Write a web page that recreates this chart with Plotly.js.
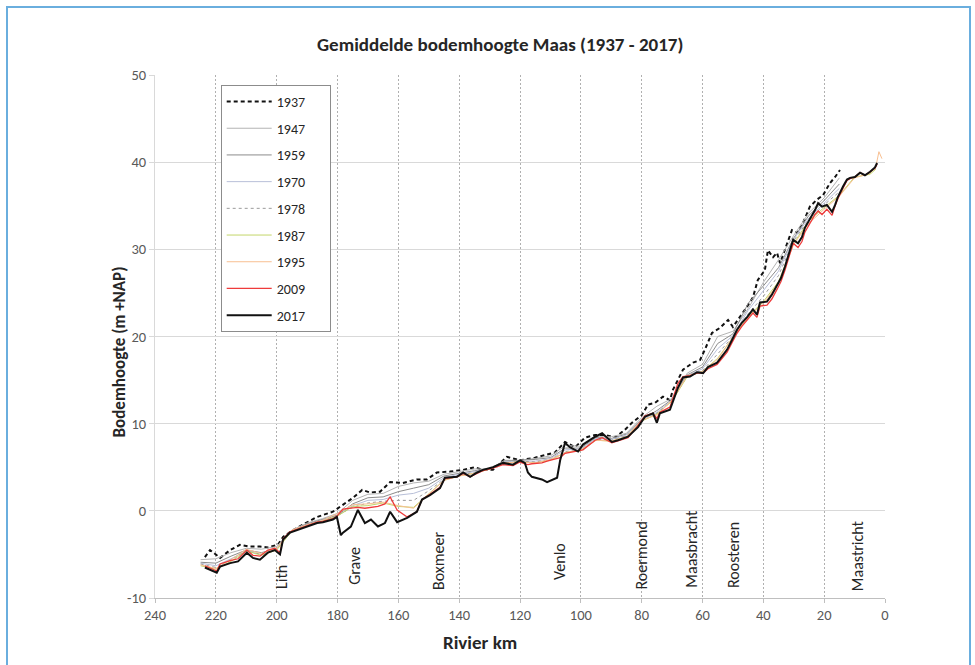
<!DOCTYPE html>
<html>
<head>
<meta charset="utf-8">
<script src="https://cdn.plot.ly/plotly-3.0.1.min.js"></script>
<style>
  html, body { margin: 0; padding: 0; background: #ffffff; overflow: hidden; width: 975px; height: 665px; }
  #chart { position: absolute; left: 0; top: 0; width: 975px; height: 665px; }
  #frame { position: absolute; left: 6px; top: 6px; width: 961px; height: 720px; border: 2px solid #6aaede; pointer-events: none; }
</style>
</head>
<body>
<div id="chart"></div>
<div id="frame"></div>
<script>
// ---- data (river km, bed level in m +NAP) ----
const km2017 = [223.6,221.6,219.7,218.6,215.3,212.7,209.8,207.8,205.5,202.9,200.6,198.9,197.9,195.6,193.3,190.0,186.7,184.8,181.5,180.2,178.9,178.2,175.6,173.3,171.0,169.0,166.7,164.4,162.7,160.4,157.1,153.9,152.2,149.6,146.3,144.7,140.7,138.7,136.4,134.1,132.2,128.9,125.6,122.3,120.0,118.4,117.4,116.1,112.8,111.1,107.8,106.8,105.2,103.6,100.9,99.3,95.3,93.0,89.8,87.8,84.5,81.2,78.9,76.3,75.0,74.0,70.7,68.1,66.4,64.1,61.8,59.8,58.2,55.2,53.6,51.9,50.3,48.6,47.0,45.4,43.4,42.1,41.1,38.8,37.2,35.5,34.2,32.9,31.2,30.2,28.6,27.3,26.3,24.7,23.0,22.0,20.7,19.1,17.4,16.4,15.5,13.8,12.5,11.5,9.9,8.2,6.6,4.9,3.3,2.6];
const v2017 = [-6.5,-6.8,-7.1,-6.4,-6.0,-5.8,-4.8,-5.4,-5.6,-4.8,-4.5,-5.0,-3.3,-2.5,-2.2,-1.8,-1.4,-1.3,-1.0,-0.7,-2.8,-2.5,-1.8,0.1,-1.4,-1.0,-1.8,-1.4,-0.1,-1.3,-0.8,-0.1,1.3,1.8,2.6,3.8,3.9,4.4,3.9,4.4,4.7,5.0,5.5,5.3,5.8,5.5,4.4,3.9,3.6,3.3,3.8,5.8,7.8,7.3,6.8,7.6,8.5,8.9,7.9,8.1,8.5,9.6,10.8,11.2,10.1,11.2,11.6,14.1,15.3,15.4,15.9,15.8,16.5,17.0,17.7,18.5,19.6,20.8,21.6,22.2,23.1,22.5,23.9,24.0,24.8,25.9,26.7,28.0,29.9,31.1,30.7,31.4,32.5,33.4,34.5,35.3,34.9,35.1,34.3,35.1,36.0,37.2,38.0,38.2,38.3,38.8,38.5,38.9,39.4,39.9];

const km2009 = km2017;
const v2009 = [-6.3,-6.6,-6.9,-6.1,-5.7,-5.5,-4.5,-5.1,-5.2,-4.5,-4.3,-4.8,
  -3.2,-2.4,-2.1,-1.7,-1.3,-1.2,-0.9,-0.6,
  0.0,0.2,0.3,0.4,0.3,0.4,0.5,0.8,1.6,0.1,
  -0.7,-0.1,1.3,1.9,2.7,3.7,
  3.9,4.3,3.9,4.3,4.6,4.9,5.3,5.2,5.6,5.4,
  5.3,5.4,5.5,5.7,6.0,6.1,6.6,6.7,6.9,7.0,
  8.1,8.4,7.8,8.0,8.4,9.8,10.9,11.2,10.6,11.3,11.9,
  14.6,15.4,15.5,15.8,15.8,16.3,16.8,17.5,18.2,19.3,20.4,21.2,21.9,22.7,22.2,
  23.5,23.6,24.3,25.4,26.3,27.6,29.4,30.7,30.2,30.9,32.0,33.0,34.0,34.4,
  34.0,34.6,33.9,35.0,35.8,37.0,37.9,38.1,38.3,38.8,38.5,38.9,39.3,39.8];

const km1937 = [223.6,221.9,218.6,215.3,212.1,208.8,205.5,202.9,199.6,197.9,194.6,190.0,186.7,181.5,178.2,174.9,171.9,169.3,166.0,162.7,158.5,153.9,150.6,147.3,143.0,138.7,134.8,132.2,128.9,124.3,120.0,115.1,108.5,105.2,101.9,98.6,95.3,92.1,88.8,85.5,83.2,79.9,77.9,75.6,73.0,70.7,69.7,66.4,63.1,60.8,59.2,56.9,54.2,51.6,50.0,47.7,45.4,43.4,41.8,39.5,38.5,36.8,35.5,34.5,32.2,30.6,28.9,27.0,24.7,22.4,20.4,18.1,16.4,14.8];
const v1937 = [-5.3,-4.5,-5.4,-4.5,-3.9,-4.1,-4.1,-4.2,-3.9,-3.0,-2.2,-1.3,-0.7,-0.1,0.7,1.5,2.4,2.1,2.2,3.3,3.2,3.6,3.6,4.4,4.5,4.7,5.0,4.7,4.7,6.2,5.8,6.1,6.7,7.9,7.3,8.4,8.7,8.7,8.4,9.3,10.1,11.0,12.2,12.4,13.1,12.7,13.9,16.2,17.0,17.3,18.5,20.4,21.0,21.9,21.1,22.2,23.4,24.5,26.5,27.6,29.9,29.1,29.6,28.4,30.7,32.2,31.9,33.0,34.9,35.7,36.2,37.6,38.3,39.1];

const kmMid = [225,220,215,210,205,200,195,190,185,180,175,170,165,160,155,150,145,140,135,130,125,120,115,110,105,100,95,90,85,80,75,70,65,60,55,50,45,40,35,30,25,20,15];
const v1947 = [-5.6,-5.5,-4.8,-4.3,-4.4,-4.1,-2.2,-1.4,-0.9,-0.3,1.2,1.9,2.0,2.8,3.2,3.4,4.2,4.5,4.8,4.8,5.8,5.8,6.0,6.3,7.5,7.4,8.5,8.5,8.9,10.7,12.0,12.9,15.8,16.8,20.0,20.6,23.2,26.2,28.8,31.6,34.2,35.9,38.2];
const v1959 = [-5.9,-6.0,-5.2,-4.5,-4.8,-4.3,-2.3,-1.5,-1.0,-0.5,0.8,1.5,1.6,2.2,2.6,3.0,4.0,4.3,4.6,4.8,5.7,5.8,5.9,6.1,7.2,7.2,8.4,8.3,8.8,10.5,11.5,12.8,15.6,16.5,19.2,20.3,23.8,25.8,27.9,31.3,33.9,35.6,37.5];
const v1970 = [-6.0,-6.3,-5.5,-4.6,-5.0,-4.4,-2.3,-1.6,-1.1,-0.6,0.6,1.2,1.3,1.8,2.0,2.6,3.8,4.2,4.5,4.8,5.6,5.7,5.7,6.0,7.0,7.1,8.3,8.2,8.7,10.4,11.3,12.7,15.5,16.3,18.6,20.1,23.0,25.2,27.5,31.2,33.6,35.3,37.0];
const v1978 = [-6.1,-6.5,-5.6,-4.6,-5.0,-4.4,-2.3,-1.6,-1.1,-0.5,0.4,0.9,1.1,1.2,1.2,2.3,3.6,4.1,4.4,4.8,5.5,5.7,5.6,5.9,6.8,7.0,8.2,8.1,8.6,10.3,11.2,12.6,15.5,16.1,18.0,20.0,22.6,24.6,27.0,31.0,33.4,35.1,36.6];
const km1987 = kmMid.concat([10,5,3]);
const v1987 = [-6.3,-6.7,-5.8,-4.6,-5.1,-4.5,-2.3,-1.7,-1.2,-0.6,0.5,0.6,0.9,0.5,0.4,2.0,3.5,4.0,4.3,4.8,5.5,5.6,5.5,5.8,6.7,6.9,8.1,8.0,8.5,10.3,11.1,12.6,15.4,16.0,17.5,19.9,22.3,24.0,26.3,30.7,33.3,34.8,36.2,38.3,38.6,39.2];
const km1995 = kmMid.concat([10,5,3,2,1]);
const v1995 = [-6.2,-6.6,-5.6,-4.4,-4.9,-4.3,-2.2,-1.6,-1.1,-0.3,0.7,0.8,1.0,0.6,0.3,1.9,3.5,4.0,4.3,4.8,5.5,5.6,5.5,5.9,6.7,7.0,8.1,8.0,8.5,10.4,11.0,12.7,15.5,16.0,17.4,19.9,22.2,23.8,26.1,30.6,33.0,34.6,36.1,38.2,38.7,39.5,41.2,40.4];

const placeNames = ['Lith','Grave','Boxmeer','Venlo','Roermond','Maasbracht','Roosteren','Maastricht'];
const placeKm    = [198.6,174.2,146.6,106.8,80.0,63.6,50.0,9.2];
const placeBase  = [-9.2,-8.7,-9.3,-8.2,-9.3,-9.1,-9.1,-9.5];

const xTicks = [240,220,200,180,160,140,120,100,80,60,40,20,0];
const yTicks = [-10,0,10,20,30,40,50];

// ---- traces ----
const FONT = 'Carlito, Lato, "Open Sans", sans-serif';
const series = [
  {name:'1937', x:km1937, y:v1937, color:'#111111', width:2, dash:'4px,3px'},
  {name:'1947', x:kmMid,  y:v1947, color:'#b4b4b4', width:1, dash:'solid'},
  {name:'1959', x:kmMid,  y:v1959, color:'#8c8c8c', width:1, dash:'solid'},
  {name:'1970', x:kmMid,  y:v1970, color:'#b8bfd8', width:1, dash:'solid'},
  {name:'1978', x:kmMid,  y:v1978, color:'#9a9a9a', width:1, dash:'dot'},
  {name:'1987', x:km1987, y:v1987, color:'#c4d66a', width:1, dash:'solid'},
  {name:'1995', x:km1995, y:v1995, color:'#f8bf91', width:1, dash:'solid'},
  {name:'2009', x:km2009, y:v2009, color:'#ee3b3b', width:1.3, dash:'solid'},
  {name:'2017', x:km2017, y:v2017, color:'#111111', width:2, dash:'solid'}
];
const traces = series.map(s => ({
  type:'scatter', mode:'lines', name:s.name + '\u00a0\u00a0\u00a0\u00a0\u00a0\u00a0', x:s.x, y:s.y,
  legendgroup:'g'+s.name,
  line:{color:s.color, width:s.width, dash:s.dash}
}));

const annotations = placeNames.map((n,i) => ({
  x: placeKm[i], y: placeBase[i], xref:'x', yref:'y', text:n, showarrow:false,
  textangle:-90, xanchor:'center', yanchor:'bottom',
  font:{family:FONT, size:16, color:'#262626'}
}));
annotations.push({
  text:'Rivier km', xref:'paper', yref:'paper', x:0.445, y:-0.086,
  xanchor:'center', yanchor:'middle', showarrow:false,
  font:{family:FONT, size:19, color:'#262626', weight:'bold'}
});
annotations.push({
  text:'Bodemhoogte (m +NAP)', xref:'paper', yref:'paper', x:-0.049, y:0.47,
  xanchor:'center', yanchor:'middle', showarrow:false, textangle:-90,
  font:{family:FONT, size:17, color:'#262626', weight:'bold'}
});

const layout = {
  width:975, height:665,
  margin:{l:155, r:90, t:75, b:67},
  paper_bgcolor:'#ffffff', plot_bgcolor:'#ffffff',
  showlegend:true,
  title:{text:'Gemiddelde bodemhoogte Maas (1937 - 2017)', x:0.513, xref:'container', xanchor:'center', y:0.934, yref:'container', yanchor:'middle',
         font:{family:FONT, size:19, color:'#262626', weight:'bold'}},
  xaxis:{range:[240,0], tickvals:xTicks, ticktext:xTicks.map(String),
         showgrid:true, gridcolor:'#b0b0b0', gridwidth:1, griddash:'2px,2px',
         zeroline:false, showline:true, linecolor:'#bfbfbf', linewidth:1,
         ticks:'outside', ticklen:4, tickcolor:'#bfbfbf',
         tickfont:{family:FONT, size:14.5, color:'#595959'}},
  yaxis:{range:[-10,50], tickvals:yTicks, ticktext:yTicks.map(String),
         showgrid:true, gridcolor:'#d9d9d9', gridwidth:1,
         zeroline:false, showline:true, linecolor:'#d9d9d9', linewidth:1,
         ticks:'outside', ticklen:5, tickcolor:'#d9d9d9',
         tickfont:{family:FONT, size:14.5, color:'#595959'}},
  legend:{x:0.090, y:0.981, xanchor:'left', yanchor:'top',
          bgcolor:'#ffffff', bordercolor:'#8c8c8c', borderwidth:1,
          traceorder:'grouped', tracegroupgap:5.5, itemwidth:45,
          font:{family:FONT, size:14, color:'#262626'}},
  annotations:annotations
};

Plotly.newPlot('chart', traces, layout, {displayModeBar:false, staticPlot:true});
</script>
</body>
</html>
